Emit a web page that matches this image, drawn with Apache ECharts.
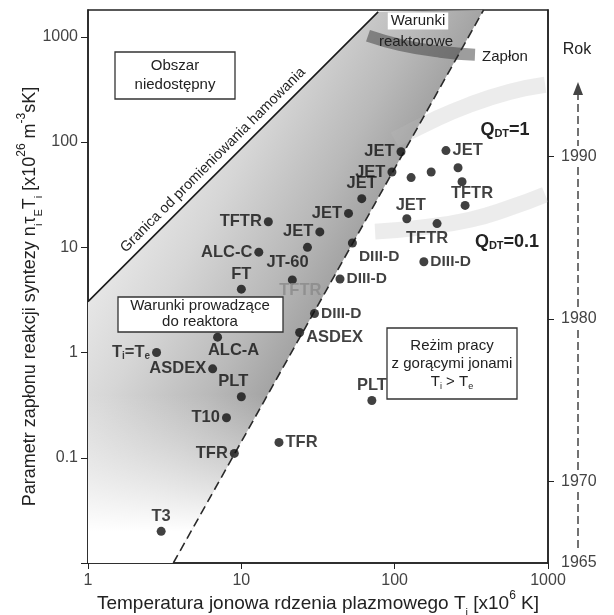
<!DOCTYPE html>
<html>
<head>
<meta charset="utf-8">
<script src="https://cdn.jsdelivr.net/npm/echarts@6/dist/echarts.min.js"></script>
<style>
  html, body { margin: 0; padding: 0; background: #fff; }
  #chart { width: 614px; height: 615px; }
</style>
</head>
<body>
<div id="chart"></div>
<script>
// temperatura jonowa Ti [x10^6 K]
const tempTi = [3, 9, 8, 10, 6.5, 2.8, 7, 10, 13, 15, 17.6, 71, 24, 30, 21.5, 27, 32.5, 50, 44, 53, 61, 96, 110, 216, 128, 173, 259, 275, 288, 120, 189, 155];
// parametr zaplonu n*tau*T [x10^26 m^-3 sK]
const ignition = [0.02, 0.11, 0.24, 0.38, 0.7, 1.0, 1.4, 4, 9, 17.5, 0.14, 0.35, 1.55, 2.35, 4.9, 10, 14, 21, 5, 11, 29, 52, 81, 83, 46, 52, 57, 42, 25, 18.7, 16.8, 7.3];
const machines = ['T3', 'TFR', 'T10', 'PLT', 'ASDEX', 'T{s|i}=T{s|e}', 'ALC-A', 'FT', 'ALC-C', 'TFTR', 'TFR', 'PLT', 'ASDEX', 'DIII-D', 'TFTR', 'JT-60', 'JET', 'JET', 'DIII-D', 'DIII-D', 'JET', 'JET', 'JET', 'JET', '', '', '', 'TFTR', '', 'JET', 'TFTR', 'DIII-D'];
// granica od promieniowania hamowania
const bremsX = [1, 78];
const bremsY = [3.05, 1730];
// linia przerywana (zaplon)
const dashX = [3.6, 380];
const dashY = [0.01, 1800];
// obszar szary
const shadeX = [1, 78, 380, 3.6, 1];
const shadeY = [3.05, 1730, 1800, 0.01, 0.01];
// pasma Q
const reactorX = [67, 108, 198, 334];
const reactorY = [1024, 841, 722, 676];
const q1X = [100, 170, 310, 566, 958];
const q1Y = [105, 156, 227, 301, 351];
const q01X = [74.5, 146, 310, 566, 958];
const q01Y = [14.1, 15.4, 18.3, 23.8, 31.7];
// os lat
const years = [1965, 1970, 1980, 1990];

// pozycje etykiet: [position, dx, dy]
const labelPos = [
  ['top', 0, 0], ['left', 0, 0], ['left', 0, 0], ['top', -8, 0], ['left', 0, 0], ['left', 0, 0],
  ['bottom', 16, -2], ['top', 0, 0], ['left', 0, 0], ['left', 0, 0], ['right', 0, 0], ['top', 0, 0],
  ['right', 0, 5], ['right', 0, 0], ['bottom', 8, -4], ['bottom', -20, 0], ['left', 0, 0], ['left', 0, 0],
  ['right', 0, 0], ['right', 0, 14], ['top', 0, 0], ['left', 0, 0], ['left', 0, 0], ['right', 0, 0],
  ['right', 0, 0], ['right', 0, 0], ['right', 0, 0], ['bottom', 10, -3], ['right', 0, 0], ['top', 4, 2],
  ['bottom', -10, 0], ['right', 0, 0]
];

const FONT = '"Liberation Sans", Arial, sans-serif';
const chart = echarts.init(document.getElementById('chart'));

const pts = tempTi.map((x, i) => ({
  value: [x, ignition[i]],
  label: {
    position: labelPos[i][0],
    offset: [labelPos[i][1], labelPos[i][2]],
    color: (i === 14) ? '#8a8a8a' : '#111',
    fontSize: machines[i] === 'DIII-D' ? 15.5 : 16.5
  }
}));

function pairs(xs, ys) {
  return xs.map((x, i) => [x, ys[i]]);
}

function txt(x, y, text, size, extra) {
  return {
    type: 'text', x: x, y: y, z: 20,
    style: Object.assign({
      text: text, x: 0, y: 0,
      fontSize: size, fontFamily: FONT, fill: '#222',
      align: 'center', verticalAlign: 'middle',
      textAlign: 'center', textVerticalAlign: 'middle'
    }, extra || {})
  };
}

function box(x, y, w, h) {
  return {
    type: 'rect', z: 19,
    shape: { x: x, y: y, width: w, height: h },
    style: { fill: '#fff', stroke: '#333', lineWidth: 1.3 }
  };
}

function isDecade(v) {
  const lg = Math.log10(v);
  return Math.abs(lg - Math.round(lg)) < 1e-6;
}

// strzalka "Rok"
const yearLine = [[92, 146], [167, 309], [330, 472], [492, 552]].map(s => ({
  type: 'line', z: 5,
  shape: { x1: 578, y1: s[0], x2: 578, y2: s[1] },
  style: { stroke: '#444', lineWidth: 1.5, lineDash: [8, 4] }
}));

const richSub = {
  s: { fontSize: 11, verticalAlign: 'bottom', lineHeight: 18 },
  p: { fontSize: 12, verticalAlign: 'top', lineHeight: 28 }
};
const richQ = { s: { fontSize: 11, fontWeight: 'bold', verticalAlign: 'bottom', lineHeight: 19 } };

const option = {
  animation: false,
  backgroundColor: '#fff',
  textStyle: { fontFamily: FONT },
  grid: {
    left: 88, right: 66, top: 10, bottom: 52,
    outerBoundsMode: 'none', containLabel: false,
    show: true, borderColor: '#222', borderWidth: 1.5
  },
  xAxis: {
    type: 'log', logBase: 10, min: 1, max: 1000,
    name: 'Temperatura jonowa rdzenia plazmowego T{s|i} [x10{p|6} K]',
    nameLocation: 'middle', nameGap: 27, nameMoveOverlap: false,
    nameTextStyle: { fontSize: 19, color: '#222', lineHeight: 22, rich: richSub },
    axisLine: { show: true, lineStyle: { color: '#222', width: 1.5 } },
    axisTick: { show: true, inside: false, length: 6, lineStyle: { color: '#222' } },
    axisLabel: {
      fontSize: 16, color: '#444', margin: 10,
      formatter: v => isDecade(v) ? String(Math.round(v)) : ''
    },
    splitLine: { show: false },
    minorTick: { show: false }
  },
  yAxis: [
    {
      type: 'log', logBase: 10, min: 0.01, max: 1800,
      name: 'Parametr zapłonu reakcji syntezy n{s|i}τ{s|E}T{s|i} [x10{p|26} m{p|-3}sK]',
      nameLocation: 'middle', nameGap: 44, nameMoveOverlap: false,
      nameTextStyle: { fontSize: 18, color: '#222', lineHeight: 22, padding: [0, 20, 0, 0], rich: richSub },
      axisLine: { show: true, lineStyle: { color: '#222', width: 1.5 } },
      axisTick: { show: true, inside: false, length: 7, lineStyle: { color: '#222' } },
      axisLabel: {
        fontSize: 16, color: '#444', margin: 10, showMaxLabel: false,
        formatter: v => {
          if (!isDecade(v) || v < 0.05) return '';
          return v < 1 ? '0.1' : String(Math.round(v));
        }
      },
      splitLine: { show: false }
    },
    {
      type: 'value', position: 'right', min: 1965, max: 1999,
      axisLine: { show: true, lineStyle: { color: '#222', width: 1.5 } },
      axisTick: { show: true, inside: false, length: 6, customValues: [1970, 1980, 1990], lineStyle: { color: '#222' } },
      axisLabel: { fontSize: 16, color: '#444', margin: 13, customValues: years, formatter: v => String(v) },
      splitLine: { show: false }
    }
  ],
  graphic: [
    box(115, 52, 120, 47),
    txt(175, 75, 'Obszar\nniedostępny', 15, { lineHeight: 19 }),
    box(118, 297, 165, 35),
    txt(200, 314, 'Warunki prowadzące\ndo reaktora', 15, { lineHeight: 16 }),
    box(387, 328, 130, 71),
    txt(452, 364, 'Reżim pracy\nz gorącymi jonami\nT{s|i} > T{s|e}', 15, {
      lineHeight: 18, rich: { s: { fontSize: 9, verticalAlign: 'bottom', lineHeight: 15 } }
    }),
    txt(418, 21, 'Warunki', 15, { backgroundColor: '#fff', padding: [1, 3] }),
    txt(416, 42, 'reaktorowe', 15),
    txt(505, 57, 'Zapłon', 15),
    txt(577, 50, 'Rok', 16),
    txt(505, 130, 'Q{s|DT}=1', 18, { fontWeight: 'bold', rich: richQ }),
    txt(507, 242, 'Q{s|DT}=0.1', 18, { fontWeight: 'bold', rich: richQ }),
    Object.assign(txt(213, 160, 'Granica od promieniowania hamowania', 14.5), { rotation: Math.PI / 4 }),
    {
      type: 'polygon', z: 5,
      shape: { points: [[573, 95], [583, 95], [578, 82]] },
      style: { fill: '#444' }
    }
  ].concat(yearLine),
  series: [
    {
      // szary obszar miedzy granica a linia przerywana
      type: 'custom', z: 1, silent: true,
      data: [[shadeX[0], shadeY[0]]],
      renderItem: function (params, api) {
        const points = shadeX.map((x, i) => api.coord([x, shadeY[i]]));
        // gradient prostopadly do linii przerywanej
        const a = api.coord([dashX[0], dashY[0]]);
        const b = api.coord([dashX[1], dashY[1]]);
        const len = Math.hypot(b[0] - a[0], b[1] - a[1]);
        const nx = -(b[1] - a[1]) / len, ny = (b[0] - a[0]) / len;
        const mx = (a[0] + b[0]) / 2, my = (a[1] + b[1]) / 2;
        const d = 250;
        // dolne wygaszanie
        const yFade0 = api.coord([1, 0.4])[1];
        const yFade1 = api.coord([1, 0.02])[1];
        return {
          type: 'group',
          children: [
            {
              type: 'polygon',
              shape: { points: points },
              style: {
                fill: new echarts.graphic.LinearGradient(mx - nx * d, my - ny * d, mx, my, [
                  { offset: 0, color: '#f2f2f2' },
                  { offset: 0.45, color: '#d6d6d6' },
                  { offset: 0.8, color: '#b9b9b9' },
                  { offset: 1, color: '#a4a4a4' }
                ], true)
              }
            },
            {
              type: 'polygon',
              shape: { points: points },
              style: {
                fill: new echarts.graphic.LinearGradient(0, yFade0, 0, yFade1, [
                  { offset: 0, color: 'rgba(255,255,255,0)' },
                  { offset: 1, color: 'rgba(255,255,255,1)' }
                ], true)
              }
            }
          ]
        };
      }
    },
    {
      type: 'line', z: 2, smooth: true, showSymbol: false, silent: true,
      data: pairs(reactorX, reactorY),
      lineStyle: { color: 'rgba(60,60,60,0.5)', width: 12 }
    },
    {
      type: 'line', z: 2, smooth: true, showSymbol: false, silent: true,
      data: pairs(q1X, q1Y),
      lineStyle: { color: 'rgba(185,185,185,0.28)', width: 16 }
    },
    {
      type: 'line', z: 2, smooth: true, showSymbol: false, silent: true,
      data: pairs(q01X, q01Y),
      lineStyle: { color: 'rgba(185,185,185,0.28)', width: 16 }
    },
    {
      type: 'line', z: 3, showSymbol: false, silent: true,
      data: pairs(bremsX, bremsY),
      lineStyle: { color: '#1a1a1a', width: 1.6 }
    },
    {
      type: 'line', z: 3, showSymbol: false, silent: true,
      data: pairs(dashX, dashY),
      lineStyle: { color: '#2a2a2a', width: 1.6, type: [9, 5] }
    },
    {
      type: 'scatter', z: 6,
      symbol: 'circle', symbolSize: 9,
      itemStyle: { color: '#111' },
      data: pts,
      label: {
        show: true, distance: 2,
        fontSize: 16.5, fontWeight: 'bold', fontFamily: FONT,
        formatter: p => machines[p.dataIndex],
        rich: { s: { fontSize: 10, fontWeight: 'bold', verticalAlign: 'bottom', lineHeight: 18 } }
      }
    }
  ]
};

chart.setOption(option);
</script>
</body>
</html>
